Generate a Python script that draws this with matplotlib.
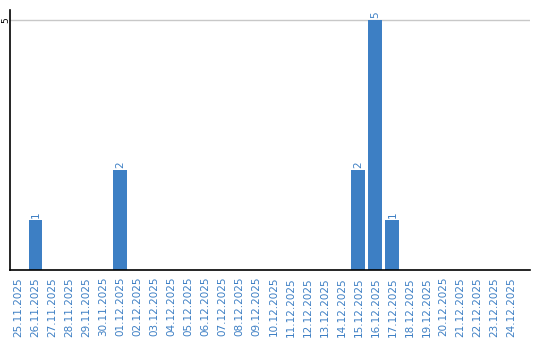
import matplotlib
matplotlib.use("Agg")
import matplotlib.pyplot as plt
import datetime as dt

start = dt.date(2025, 11, 25)
dates = [(start + dt.timedelta(days=i)).strftime("%d.%m.%Y") for i in range(30)]
counts = {"26.11.2025": 1, "01.12.2025": 2, "15.12.2025": 2, "16.12.2025": 5, "17.12.2025": 1}
values = [counts.get(d, 0) for d in dates]

blue = "#3d7fc4"
fig = plt.figure(figsize=(5.4, 3.4), dpi=100)
ax = fig.add_axes([10/540, 70/340, 520/540, 260/340])
x = list(range(len(dates)))
ax.bar(x, values, width=0.82, color=blue)
for xi, v in zip(x, values):
    if v > 0:
        ax.text(xi, v + 0.05, str(v), rotation=90, ha="center", va="bottom",
                color=blue, fontsize=7.5)
ax.set_xlim(-0.5, 30.1)
ax.set_ylim(0, 5.2)
ax.set_yticks([5])
ax.set_yticklabels(["5"], rotation=90, va="center", fontsize=6.5)
ax.tick_params(axis="y", length=0, pad=0)
ax.set_xticks(x)
ax.set_xticklabels(dates, rotation=90, color=blue, fontsize=7.5)
ax.tick_params(axis="x", length=0, pad=5)
ax.axhline(5, color="#c8c8c8", lw=1, zorder=0)
for s in ("top", "right"):
    ax.spines[s].set_visible(False)
ax.spines["left"].set_color("black")
ax.spines["bottom"].set_color("black")
ax.spines["left"].set_linewidth(1.2)
ax.spines["bottom"].set_linewidth(1.2)
fig.savefig("out.png", dpi=100)
